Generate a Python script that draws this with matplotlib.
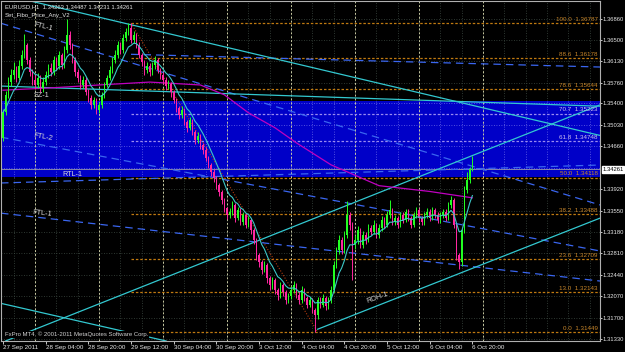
import numpy as np
import pandas as pd
import matplotlib
matplotlib.use("Agg")
import matplotlib.pyplot as plt

plt.rcParams['font.family'] = ['Liberation Sans', 'DejaVu Sans']

# ---------------- data ----------------
first_open = 1.3480
closes = [
    1.3525, 1.3555, 1.3577, 1.3589, 1.3598, 1.3584, 1.3605, 1.3624, 1.3641, 1.3615,
    1.3594, 1.3580, 1.3572, 1.3584, 1.3567, 1.3577, 1.3589, 1.3601, 1.3594, 1.3615,
    1.3605, 1.3624, 1.3606, 1.3632, 1.3658, 1.3641, 1.3615, 1.3594, 1.3584, 1.3572,
    1.3580, 1.3560, 1.3549, 1.3537, 1.3546, 1.3529, 1.3537, 1.3555, 1.3572, 1.3584,
    1.3598, 1.3615, 1.3624, 1.3641, 1.3632, 1.3653, 1.3663, 1.3670, 1.3650, 1.3658,
    1.3641, 1.3624, 1.3612, 1.3598, 1.3605, 1.3594, 1.3606, 1.3615, 1.3598, 1.3589,
    1.3580, 1.3570, 1.3574, 1.3560, 1.3546, 1.3532, 1.3520, 1.3529, 1.3508, 1.3498,
    1.3511, 1.3491, 1.3477, 1.3484, 1.3468, 1.3460, 1.3446, 1.3434, 1.3422, 1.3411,
    1.3399, 1.3387, 1.3373, 1.3359, 1.3347, 1.3353, 1.3365, 1.3342, 1.3356, 1.3335,
    1.3347, 1.3330, 1.3339, 1.3321, 1.3304, 1.3278, 1.3266, 1.3252, 1.3261, 1.3238,
    1.3226, 1.3235, 1.3218, 1.3209, 1.3226, 1.3214, 1.3200, 1.3207, 1.3218, 1.3226,
    1.3209, 1.3200, 1.3218, 1.3204, 1.3192, 1.3200, 1.3183, 1.3174, 1.3200, 1.3192,
    1.3204, 1.3190, 1.3200, 1.3218, 1.3261, 1.3287, 1.3304, 1.3287, 1.3313, 1.3347,
    1.3330, 1.3295, 1.3304, 1.3321, 1.3295, 1.3313, 1.3304, 1.3325, 1.3318, 1.3330,
    1.3313, 1.3325, 1.3339, 1.3330, 1.3347, 1.3356, 1.3335, 1.3342, 1.3330, 1.3347,
    1.3339, 1.3353, 1.3342, 1.3330, 1.3347, 1.3356, 1.3342, 1.3335, 1.3347, 1.3353,
    1.3342, 1.3356, 1.3347, 1.3339, 1.3347, 1.3353, 1.3342, 1.3365, 1.3373, 1.3330,
    1.3278, 1.3266, 1.3321, 1.3391, 1.3408, 1.3426, 1.34261,
]
highs = [
    1.3530, 1.3562, 1.3585, 1.3600, 1.3612, 1.3605, 1.3615, 1.3632, 1.3660, 1.3645,
    1.3620, 1.3600, 1.3590, 1.3592, 1.3590, 1.3585, 1.3596, 1.3608, 1.3610, 1.3622,
    1.3620, 1.3630, 1.3628, 1.3640, 1.3686, 1.3665, 1.3645, 1.3620, 1.3600, 1.3590,
    1.3588, 1.3585, 1.3565, 1.3555, 1.3552, 1.3550, 1.3542, 1.3560, 1.3578, 1.3590,
    1.3604, 1.3620, 1.3632, 1.3648, 1.3646, 1.3660, 1.3670, 1.3679, 1.3679, 1.3665,
    1.3662, 1.3646, 1.3628, 1.3616, 1.3612, 1.3610, 1.3612, 1.3622, 1.3618, 1.3602,
    1.3594, 1.3586, 1.3580, 1.3578, 1.3564, 1.3550, 1.3536, 1.3535, 1.3532, 1.3512,
    1.3516, 1.3514, 1.3495, 1.3490, 1.3488, 1.3472, 1.3464, 1.3450, 1.3438, 1.3426,
    1.3415, 1.3403, 1.3390, 1.3376, 1.3362, 1.3360, 1.3372, 1.3368, 1.3362, 1.3360,
    1.3352, 1.3350, 1.3345, 1.3342, 1.3325, 1.3308, 1.3282, 1.3270, 1.3268, 1.3264,
    1.3242, 1.3240, 1.3238, 1.3222, 1.3232, 1.3230, 1.3218, 1.3212, 1.3224, 1.3234,
    1.3230, 1.3214, 1.3225, 1.3222, 1.3208, 1.3206, 1.3204, 1.3187, 1.3205, 1.3206,
    1.3210, 1.3208, 1.3206, 1.3224, 1.3268, 1.3292, 1.3312, 1.3310, 1.3320, 1.3372,
    1.3352, 1.3335, 1.3312, 1.3328, 1.3325, 1.3320, 1.3318, 1.3332, 1.3330, 1.3338,
    1.3334, 1.3332, 1.3345, 1.3344, 1.3355, 1.3373, 1.3360, 1.3348, 1.3346, 1.3352,
    1.3352, 1.3358, 1.3358, 1.3346, 1.3352, 1.3362, 1.3360, 1.3346, 1.3352, 1.3360,
    1.3358, 1.3362, 1.3360, 1.3352, 1.3352, 1.3358, 1.3358, 1.3370, 1.3380, 1.3376,
    1.3334, 1.3282, 1.3326, 1.3398, 1.3422, 1.3430, 1.34487,
]
lows = [
    1.3475, 1.3520, 1.3550, 1.3570, 1.3582, 1.3578, 1.3580, 1.3600, 1.3618, 1.3608,
    1.3588, 1.3572, 1.3565, 1.3566, 1.3560, 1.3560, 1.3572, 1.3584, 1.3588, 1.3590,
    1.3598, 1.3600, 1.3600, 1.3602, 1.3628, 1.3635, 1.3610, 1.3588, 1.3578, 1.3565,
    1.3566, 1.3555, 1.3542, 1.3530, 1.3532, 1.3522, 1.3524, 1.3532, 1.3550, 1.3568,
    1.3580, 1.3592, 1.3610, 1.3618, 1.3625, 1.3628, 1.3648, 1.3658, 1.3645, 1.3644,
    1.3636, 1.3618, 1.3605, 1.3590, 1.3592, 1.3588, 1.3590, 1.3600, 1.3592, 1.3582,
    1.3574, 1.3564, 1.3565, 1.3552, 1.3540, 1.3525, 1.3514, 1.3515, 1.3502, 1.3490,
    1.3494, 1.3485, 1.3470, 1.3472, 1.3462, 1.3452, 1.3440, 1.3428, 1.3415, 1.3405,
    1.3392, 1.3380, 1.3366, 1.3352, 1.3340, 1.3342, 1.3348, 1.3336, 1.3338, 1.3330,
    1.3330, 1.3324, 1.3326, 1.3315, 1.3298, 1.3270, 1.3258, 1.3245, 1.3248, 1.3230,
    1.3218, 1.3220, 1.3210, 1.3200, 1.3204, 1.3208, 1.3194, 1.3195, 1.3202, 1.3212,
    1.3204, 1.3194, 1.3196, 1.3198, 1.3186, 1.3188, 1.3178, 1.3145, 1.3168, 1.3186,
    1.3188, 1.3184, 1.3185, 1.3196, 1.3214, 1.3255, 1.3280, 1.3280, 1.3282, 1.3308,
    1.3322, 1.3235, 1.3288, 1.3298, 1.3290, 1.3290, 1.3298, 1.3300, 1.3312, 1.3314,
    1.3308, 1.3308, 1.3320, 1.3325, 1.3326, 1.3342, 1.3330, 1.3330, 1.3324, 1.3326,
    1.3334, 1.3335, 1.3337, 1.3324, 1.3326, 1.3342, 1.3336, 1.3330, 1.3330, 1.3342,
    1.3337, 1.3338, 1.3342, 1.3334, 1.3334, 1.3342, 1.3337, 1.3338, 1.3360, 1.3325,
    1.3270, 1.3254, 1.3260, 1.3316, 1.3386, 1.3402, 1.34231,
]

# slow moving average (magenta) at a few bars
slow_ma_bars = [0, 18, 36, 55, 74, 83, 92, 102, 110, 123, 141, 160, 176]
slow_ma_vals = [1.3563, 1.3567, 1.3572, 1.3577, 1.3572, 1.3555, 1.3524, 1.3498, 1.3472,
                1.3434, 1.3398, 1.3388, 1.3377]

time_labels = ["27 Sep 2011", "28 Sep 04:00", "28 Sep 20:00", "29 Sep 12:00",
               "30 Sep 04:00", "30 Sep 20:00", "3 Oct 12:00", "4 Oct 04:00",
               "4 Oct 20:00", "5 Oct 12:00", "6 Oct 04:00", "6 Oct 20:00"]
time_label_bars = [0, 16, 32, 48, 64, 80, 96, 112, 128, 144, 160, 176]

price_ticks = [1.36860, 1.36500, 1.36130, 1.35760, 1.35400, 1.35030, 1.34660,
               1.33920, 1.33550, 1.33180, 1.32810, 1.32440, 1.32070, 1.31700, 1.31330]
extra_grid_price = 1.34290
current_price = 1.34261

fib_ratios = [100.0, 88.6, 78.6, 70.7, 61.8, 50.0, 38.2, 23.6, 13.0, 0.0]
fib_prices = [1.36787, 1.36178, 1.35644, 1.35223, 1.34748, 1.34118, 1.33488,
              1.32709, 1.32143, 1.31449]
fib_high_bar, fib_low_bar = 48, 118

zone_top, zone_bottom = 1.3544, 1.3413

# trend lines: (bar1, price1, bar2, price2)
cyan_top = (26.0, 1.3700, 140.0, 1.3576)
cyan_channel = (21.4, 1.3167, 216.4, 1.3524)
cyan_lowleft = (-1.1, 1.3195, 42.7, 1.3149)
cyan_sz = (0.0, 1.3570, 200.0, 1.3539)
roh_ray = (118.0, 1.3150, 223.9, 1.3342)
blue_ftl1_top = (-1.1, 1.36791, 223.9, 1.33646)
blue_ftl2 = (-1.1, 1.34821, 223.9, 1.32851)
blue_rtl1 = (-1.1, 1.34026, 223.9, 1.34337)
blue_ftl1_low = (-1.1, 1.33507, 223.9, 1.32332)
blue_upper = (48.0, 1.36250, 223.9, 1.36030)

line_labels = ["FTL-1", "SZ-1", "FTL-2", "RTL-1", "FTL-1", "ROH-1"]
line_label_bars = [15.0, 14.6, 15.0, 25.9, 14.6, 140.6]
line_label_prices = [1.36721, 1.35546, 1.34824, 1.34181, 1.33507, 1.32039]
line_label_angles = [-14, 0, -10, 0, -6, 20]

# ---------------- figure ----------------
W, H = 625, 352
fig = plt.figure(figsize=(W / 100, H / 100), dpi=100, facecolor='black')
ax = fig.add_axes([1 / W, (H - 341) / H, 599 / W, 340 / H])
ax.set_facecolor('black')
XMIN, XMAX = -0.75, 223.85
YMIN, YMAX = 1.31296, 1.37171
ax.set_xlim(XMIN, XMAX)
ax.set_ylim(YMIN, YMAX)

n = len(closes)
xs = np.arange(n)
opens = [first_open] + closes[:-1]

grid_c = '#3d4a42'
grid_in = '#6a6ae8'
dot = (0, (1, 2))

# horizontal grid
for p in price_ticks + [extra_grid_price]:
    inside = zone_bottom < p < zone_top
    ax.axhline(p, color=grid_in if inside else grid_c, lw=0.6, ls=dot,
               zorder=0.7 if inside else 0.2)
# vertical grid
for b in range(4, 224, 8):
    ax.vlines(b, YMIN, YMAX, color=grid_c, lw=0.6, ls=dot, zorder=0.2)
    ax.vlines(b, zone_bottom, zone_top, color=grid_in, lw=0.6, ls=dot, zorder=0.7)

# supply zone rectangle
ax.axhspan(zone_bottom, zone_top, color='#0000c8', zorder=0.5, lw=0)

# day separators
for b in range(12, 181, 24):
    ax.vlines(b, YMIN, YMAX, color='#c8c8a0', lw=0.7, ls=(0, (2, 2)), zorder=0.8)

# current price line
ax.axhline(current_price, color='#9a9aa8', lw=0.6, zorder=0.9)

# fibonacci levels
for r, p in zip(fib_ratios, fib_prices):
    inside = zone_bottom < p < zone_top
    col = '#9a8cf0' if inside else '#c07a10'
    ax.hlines(p, fib_high_bar, XMAX, color=col, lw=0.9, ls=(0, (2, 1.5)), zorder=1.2)
    ax.text(223.0, p + 0.00025, f"{r:.1f}  {p:.5f}", color='#cfc0f0' if inside else '#c8862a',
            fontsize=4.5, ha='right', va='bottom', zorder=6)
ax.plot([fib_high_bar, fib_low_bar], [fib_prices[0], fib_prices[-1]],
        color='#b03a10', lw=0.8, ls=(0, (1, 1.5)), zorder=1.3)

# trend lines
cyan = '#33c8d0'
for ln in (cyan_top, cyan_channel, cyan_lowleft, cyan_sz):
    ax.axline((ln[0], ln[1]), (ln[2], ln[3]), color=cyan, lw=0.9, zorder=1.5)
ax.plot([roh_ray[0], roh_ray[2]], [roh_ray[1], roh_ray[3]], color=cyan, lw=0.9, zorder=1.5)
blue = '#3a66f0'
for ln in (blue_ftl1_top, blue_ftl2, blue_rtl1, blue_ftl1_low):
    ax.axline((ln[0], ln[1]), (ln[2], ln[3]), color=blue, lw=0.9,
              ls=(0, (6, 4)), zorder=1.4)
ax.plot([blue_upper[0], blue_upper[2]], [blue_upper[1], blue_upper[3]], color=blue,
        lw=0.9, ls=(0, (6, 4)), zorder=1.4)

for t, b, p, a in zip(line_labels, line_label_bars, line_label_prices, line_label_angles):
    ax.text(b, p, t, color='#d8d8d8', fontsize=5.2, ha='center', va='center',
            rotation=a, rotation_mode='anchor', zorder=6)

# candles
up_c, dn_c = '#22ff22', '#ff28a0'
for i in range(n):
    o, h, l, c = opens[i], highs[i], lows[i], closes[i]
    col = up_c if c >= o else dn_c
    ax.vlines(xs[i], l, h, color=col, lw=0.7, zorder=3)
    ax.bar(xs[i], max(abs(c - o), 0.00003), bottom=min(o, c), width=0.62,
           color=col, lw=0, zorder=3)

# moving averages
fast_ma = pd.Series(closes).ewm(span=8, adjust=False).mean()
ax.plot(xs, fast_ma, color='#3cc8c8', lw=0.8, zorder=4)
ax.plot(slow_ma_bars, slow_ma_vals, color='#c000c0', lw=0.9, zorder=2)

# axes styling
for s in ax.spines.values():
    s.set_color('#b0b0b0')
    s.set_linewidth(0.8)
ax.yaxis.tick_right()
ax.set_yticks(price_ticks)
ax.set_yticklabels([f"{p:.5f}" for p in price_ticks])
ax.set_xticks(time_label_bars)
ax.set_xticklabels(time_labels)
ax.tick_params(axis='x', colors='#e8e8e8', labelsize=4.5, length=2, width=0.6, pad=1)
ax.tick_params(axis='y', colors='#e8e8e8', labelsize=4.2, length=1.5, width=0.6, pad=0.6)
for lab in ax.get_xticklabels():
    lab.set_horizontalalignment('left')

# current price box
ax.annotate(f"{current_price:.5f}", xy=(1.0, current_price),
            xycoords=('axes fraction', 'data'), xytext=(1.6, 0), textcoords='offset points',
            color='black', fontsize=4.2, ha='left', va='center', annotation_clip=False,
            bbox=dict(boxstyle='square,pad=0.12', fc='white', ec='white'), zorder=10)

# header texts
fig.text(5 / W, 1 - 7 / H, "EURUSD,H1  1.34263 1.34487 1.34231 1.34261",
         color='#e8e8e8', fontsize=4.2, ha='left', va='center')
fig.text(5 / W, 1 - 15 / H, "Set_Fibo_Price_Any_V2", color='#e8e8e8', fontsize=4.3,
         ha='left', va='center')
ax.text(0.007, 0.012, "FxPro MT4, \u00a9 2001-2011 MetaQuotes Software Corp.",
        transform=ax.transAxes, color='#d0d0d0', fontsize=4.3, ha='left', va='bottom',
        bbox=dict(boxstyle='square,pad=0.1', fc='black', ec='none'), zorder=8)

fig.savefig('out.png', dpi=100, facecolor='black')
